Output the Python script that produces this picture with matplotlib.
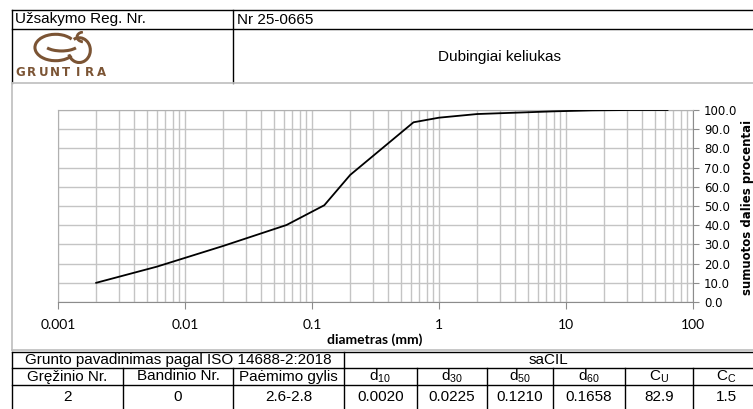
import numpy as np
import matplotlib.pyplot as plt
from matplotlib.lines import Line2D
from matplotlib.patches import Arc

plt.rcParams['mathtext.fontset'] = 'custom'
plt.rcParams['mathtext.rm'] = 'Liberation Sans'
plt.rcParams['mathtext.it'] = 'Liberation Sans:italic'

# grain size distribution (sieve / hydrometer results)
diam_mm = [0.002, 0.006, 0.02, 0.063, 0.125, 0.2, 0.63, 1, 2, 4, 8, 16, 31.5, 63]
passing = [10.0, 18.4, 29.2, 40.1, 50.4, 66.2, 93.6, 96.0, 97.9, 98.6, 99.3, 99.8, 100.0, 100.0]

x_ticks = [0.001, 0.01, 0.1, 1, 10, 100]
x_tick_labels = ['0.001', '0.01', '0.1', '1', '10', '100']
y_ticks = [0, 10, 20, 30, 40, 50, 60, 70, 80, 90, 100]

order_no = 'Nr 25-0665'
site_name = 'Dubingiai keliukas'
soil_name = 'saCIL'
table_head = ['Gręžinio Nr.', 'Bandinio Nr.', 'Paėmimo gylis',
              'd$_{10}$', 'd$_{30}$', 'd$_{50}$', 'd$_{60}$', 'C$_{\\mathrm{U}}$', 'C$_{\\mathrm{C}}$']
table_row = ['2', '0', '2.6-2.8', '0.0020', '0.0225', '0.1210', '0.1658', '82.9', '1.5']

W, H = 753, 409
fig = plt.figure(figsize=(W / 100, H / 100), dpi=100)


def fx(x):
    return x / W


def fy(y):
    return 1 - y / H


def line(x0, y0, x1, y1, color='black', lw=1.0):
    fig.add_artist(Line2D([fx(x0), fx(x1)], [fy(y0), fy(y1)],
                          transform=fig.transFigure, color=color, lw=lw))


def text(x, y, s, ha='left', size=11, **kw):
    fig.text(fx(x), fy(y), s, ha=ha, va='center', fontsize=size,
             family='Liberation Sans', **kw)


# ---- header table
line(12, 10, W, 10)
line(12, 28.5, W, 28.5)
line(12, 10, 12, 83)
line(233, 10, 233, 83)
line(12, 83, W, 83, color='#bdbdbd', lw=1.2)
line(12, 83, 12, 350, color='#bdbdbd', lw=1.2)
text(15, 19.5, 'Užsakymo Reg. Nr.')
text(237, 19.5, order_no)
text(499, 57, site_name, ha='center')

# logo
brown = '#7b5434'
lax = fig.add_axes([fx(32), fy(64), fx(62), fy(0) - fy(33)])
lax.set_xlim(0, 2.1)
lax.set_ylim(0, 1)
lax.axis('off')
lax.add_patch(Arc((0.8, 0.5), 1.4, 0.8, theta1=25, theta2=335, color=brown, lw=2.2))
lax.add_patch(Arc((1.0, 0.62), 1.2, 0.45, theta1=195, theta2=345, color=brown, lw=2.2))
lax.add_patch(Arc((1.6, 0.42), 0.75, 0.75, theta1=-160, theta2=120, color=brown, lw=2.2))
lax.add_patch(Arc((1.75, 0.82), 0.45, 0.3, theta1=100, theta2=260, color=brown, lw=2.0))
for i, ch in enumerate('GRUNTIRA'):
    fig.text(fx(20 + i * 11.6), fy(72), ch, ha='center', va='center', fontsize=8.5,
             fontweight='bold', color=brown, family='DejaVu Sans')

# ---- chart
ax = fig.add_axes([fx(58), fy(302), fx(693 - 58), fy(110) - fy(302)])
ax.plot(diam_mm, passing, color='black', lw=1.3, zorder=3)
ax.set_xscale('log')
ax.set_xlim(0.001, 100)
ax.set_ylim(0, 100)
ax.set_xticks(x_ticks)
ax.set_xticklabels(x_tick_labels, family='Lato', fontsize=10)
ax.set_yticks(y_ticks)
ax.set_yticklabels([f'{v:.1f}' for v in y_ticks], family='DejaVu Sans', fontsize=8.5)
ax.yaxis.tick_right()
ax.grid(True, which='both', color='#c4c4c4', lw=1.0)
ax.tick_params(axis='x', which='major', length=5, color='#8c8c8c', pad=7)
ax.tick_params(axis='x', which='minor', length=0)
ax.tick_params(axis='y', length=4, color='#8c8c8c', pad=4)
for sp in ax.spines.values():
    sp.set_color('#b0b0b0')
ax.spines['bottom'].set_color('#8c8c8c')
ax.spines['right'].set_color('#8c8c8c')
fig.text(fx(375), fy(340), 'diametras (mm)', ha='center', va='center',
         fontsize=10, fontweight='bold', family='Lato')
fig.text(fx(747), fy(207), 'sumuotos dalies procentai', ha='center', va='center',
         rotation=90, fontsize=8.5, fontweight='bold', family='DejaVu Sans')

# ---- bottom table
line(12, 349.5, W, 349.5, color='#bdbdbd', lw=1.2)
line(12, 352, W, 352)
line(12, 368, W, 368)
line(12, 385, W, 385)
line(12, 352, 12, H)
line(344, 352, 344, 368)
col_edges = [12, 123, 233, 344, 417, 487, 553, 625, 693, 760]
for xe in col_edges[1:-1]:
    line(xe, 368, xe, H)
text((12 + 344) / 2, 360, 'Grunto pavadinimas pagal ISO 14688-2:2018', ha='center')
text((344 + W) / 2, 360, soil_name, ha='center')
for i in range(len(table_head)):
    xc = (col_edges[i] + col_edges[i + 1]) / 2
    text(xc, 376.5, table_head[i], ha='center')
    text(xc, 397, table_row[i], ha='center')

fig.savefig('out.png', dpi=100)
